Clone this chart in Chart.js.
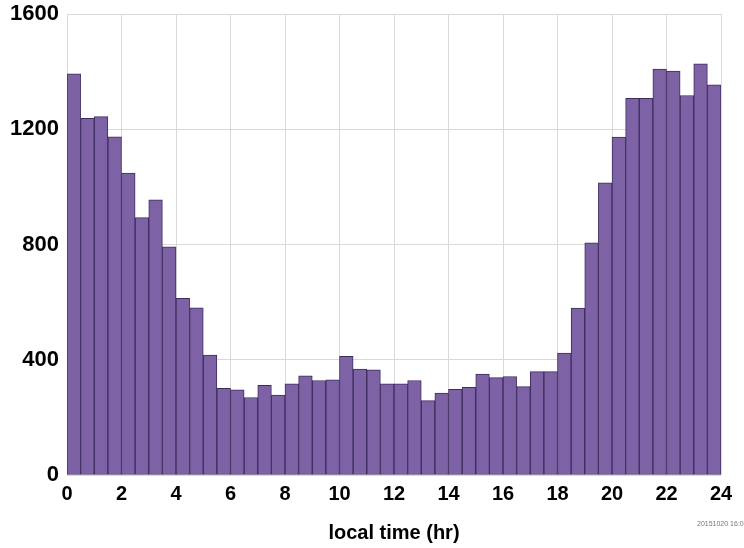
<!DOCTYPE html>
<html>
<head>
<meta charset="utf-8">
<title>local time histogram</title>
<script src="https://cdn.jsdelivr.net/npm/chart.js@4/dist/chart.umd.min.js"></script>
<style>
  body { margin: 0; background: #fff; }
  #wrap { width: 744px; height: 548px; }
</style>
</head>
<body>
<div id="wrap"><canvas id="chart" width="744" height="548"></canvas></div>
<script>
// half-hour bins, labelled by start hour
const binStart = [
    0, 0.5, 1, 1.5, 2, 2.5, 3, 3.5, 4, 4.5, 5, 5.5,
    6, 6.5, 7, 7.5, 8, 8.5, 9, 9.5, 10, 10.5, 11, 11.5,
    12, 12.5, 13, 13.5, 14, 14.5, 15, 15.5, 16, 16.5, 17, 17.5,
    18, 18.5, 19, 19.5, 20, 20.5, 21, 21.5, 22, 22.5, 23, 23.5
];
const counts = [
    1392, 1238, 1244, 1174, 1048, 893, 955, 792, 613, 580, 416, 301,
    296, 269, 311, 277, 316, 344, 328, 330, 412, 368, 365, 316,
    316, 328, 258, 284, 297, 304, 350, 338, 342, 307, 359, 359,
    423, 579, 806, 1014, 1173, 1307, 1307, 1409, 1402, 1317, 1427, 1354
];
const hourTicks = [0, 2, 4, 6, 8, 10, 12, 14, 16, 18, 20, 22, 24];
const countTicks = [0, 400, 800, 1200, 1600];
const stamp = '20151020 16:00';

const ctx = document.getElementById('chart');
const boldFont = size => ({ family: '"Liberation Sans", Arial, sans-serif', size: size, weight: 'bold' });

// small date stamp under the lower right corner
const stampPlugin = {
    id: 'stamp',
    afterDraw(chart) {
        const c = chart.ctx;
        c.save();
        c.font = '7px "Liberation Sans", Arial, sans-serif';
        c.fillStyle = '#777';
        c.textBaseline = 'middle';
        c.fillText(stamp, 697, 524);
        c.restore();
    }
};

new Chart(ctx, {
    type: 'bar',
    data: {
        labels: binStart,
        datasets: [{
            data: counts,
            backgroundColor: '#7d63a5',
            borderColor: '#3e2c5e',
            borderWidth: 1,
            borderSkipped: false,
            barPercentage: 1,
            categoryPercentage: 1
        }]
    },
    options: {
        responsive: false,
        animation: false,
        layout: { padding: { top: 14, right: 23, left: 0, bottom: 0 } },
        plugins: {
            legend: { display: false },
            tooltip: { enabled: false }
        },
        scales: {
            x: { display: false, offset: true },
            hours: {
                type: 'linear',
                position: 'bottom',
                offset: false,
                min: 0,
                max: 24,
                afterBuildTicks: s => { s.ticks = hourTicks.map(v => ({ value: v })); },
                afterFit: s => { s.height = 73; s.paddingLeft = 0; s.paddingRight = 0; },
                ticks: {
                    color: '#000',
                    padding: 7,
                    maxRotation: 0,
                    font: boldFont(20)
                },
                grid: { color: '#d9d9d9', drawTicks: false, offset: false },
                border: { display: false },
                title: {
                    display: true,
                    text: 'local time (hr)',
                    color: '#000',
                    padding: { top: 15, bottom: 3 },
                    font: boldFont(20)
                }
            },
            y: {
                min: 0,
                max: 1600,
                afterBuildTicks: s => { s.ticks = countTicks.map(v => ({ value: v })); },
                afterFit: s => { s.width = 67; s.paddingTop = 0; s.paddingBottom = 0; },
                ticks: {
                    color: '#000',
                    padding: 8,
                    font: boldFont(22),
                    callback: v => String(v)
                },
                grid: { color: '#d9d9d9', drawTicks: false },
                border: { display: false }
            }
        }
    },
    plugins: [stampPlugin]
});
</script>
</body>
</html>
